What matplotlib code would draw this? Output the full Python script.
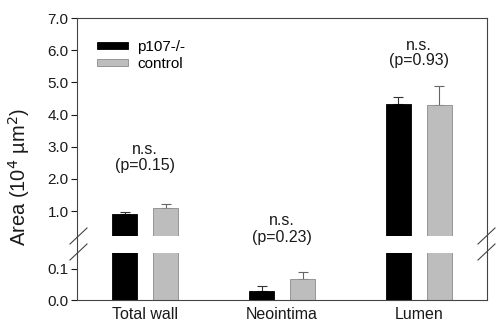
import matplotlib
matplotlib.use("Agg")
import matplotlib.pyplot as plt
import numpy as np
from matplotlib.lines import Line2D
from matplotlib.patches import Patch

plt.rcParams['font.family'] = ['Liberation Sans', 'DejaVu Sans']

categories = ["Total wall", "Neointima", "Lumen"]
series_names = ["p107-/-", "control"]
p107_means = [0.90, 0.028, 4.32]
p107_errs = [0.06, 0.018, 0.23]
control_means = [1.09, 0.066, 4.29]
control_errs = [0.14, 0.024, 0.59]
annot_ns = ["n.s.", "n.s.", "n.s."]
annot_p = ["(p=0.15)", "(p=0.23)", "(p=0.93)"]
annot_y = [(2.90, 2.43), (0.72, 0.19), (6.16, 5.69)]
upper_ticks = [1.0, 2.0, 3.0, 4.0, 5.0, 6.0, 7.0]
lower_ticks = [0.0, 0.1]

W, H = 500, 325
fig = plt.figure(figsize=(5, 3.25), dpi=100)

def fx(px):
    return px / W

def fy(py):
    return 1 - py / H

L, R = 77, 487
ax_up = fig.add_axes([fx(L), fy(236), fx(R - L), fy(18) - fy(236)])
ax_lo = fig.add_axes([fx(L), fy(300), fx(R - L), fy(253) - fy(300)])

x = np.arange(len(categories))
off = 0.15
bw = 0.185
black = "#000000"
gray = "#bdbdbd"
txt = "#1a1a1a"

for ax in (ax_up, ax_lo):
    ax.bar(x - off, p107_means, bw, color=black, edgecolor=black, linewidth=0.6, zorder=2)
    ax.bar(x + off, control_means, bw, color=gray, edgecolor="#8a8a8a", linewidth=0.6, zorder=2)
    ax.errorbar(x - off, p107_means, yerr=[np.zeros(3), p107_errs], fmt='none',
                ecolor="#333333", elinewidth=0.8, capsize=3.5, capthick=0.8, zorder=1)
    ax.errorbar(x + off, control_means, yerr=[np.zeros(3), control_errs], fmt='none',
                ecolor="#666666", elinewidth=0.8, capsize=3.5, capthick=0.8, zorder=1)
    ax.set_xlim(-0.5, 2.5)
    for s in ax.spines.values():
        s.set_linewidth(0.8)
        s.set_color("#444444")
    ax.tick_params(axis='y', direction='out', length=4, width=0.8, labelsize=11,
                   colors=txt, pad=2)

ax_up.set_ylim(0.223, 7.0)
ax_up.set_yticks(upper_ticks)
ax_up.set_yticklabels([f"{t:.1f}" for t in upper_ticks])
ax_up.spines['bottom'].set_visible(False)
ax_up.tick_params(axis='x', bottom=False, labelbottom=False)

ax_lo.set_ylim(0.0, 0.15)
ax_lo.set_yticks(lower_ticks)
ax_lo.set_yticklabels([f"{t:.1f}" for t in lower_ticks])
ax_lo.spines['top'].set_visible(False)
ax_lo.set_xticks(x)
ax_lo.set_xticklabels(categories, fontsize=11.5, color=txt)
ax_lo.tick_params(axis='x', length=0, pad=5)

# continuous side spines across the gap
for px in (L, R):
    fig.add_artist(Line2D([fx(px), fx(px)], [fy(236), fy(253)], color="#444444",
                          linewidth=0.8, transform=fig.transFigure))
# break marks
for px0 in (70, 478):
    for dy in (0, 16):
        fig.add_artist(Line2D([fx(px0), fx(px0 + 17)], [fy(244 + dy), fy(228 + dy)],
                              color="#444444", linewidth=0.8, transform=fig.transFigure))

for i in range(3):
    ax_up.text(x[i], annot_y[i][0], annot_ns[i], ha='center', va='center',
               fontsize=11.5, color=txt, clip_on=False)
    ax_up.text(x[i], annot_y[i][1], annot_p[i], ha='center', va='center',
               fontsize=11.5, color=txt, clip_on=False)

fig.text(fx(19), fy(177), "Area (10$^4$ \u00b5m$^2$)", rotation=90, ha='center',
         va='center', fontsize=14.5, color=txt)

handles = [Patch(facecolor=black, edgecolor=black, linewidth=0.6),
           Patch(facecolor=gray, edgecolor="#8a8a8a", linewidth=0.6)]
leg = ax_up.legend(handles, series_names, loc='upper left',
                   bbox_to_anchor=(fx(97), fy(40)), bbox_transform=fig.transFigure,
                   frameon=False, fontsize=11, handlelength=2.0, handleheight=0.4,
                   handletextpad=0.65, labelspacing=0.2, borderpad=0, borderaxespad=0)

fig.savefig("out.png", dpi=100)
